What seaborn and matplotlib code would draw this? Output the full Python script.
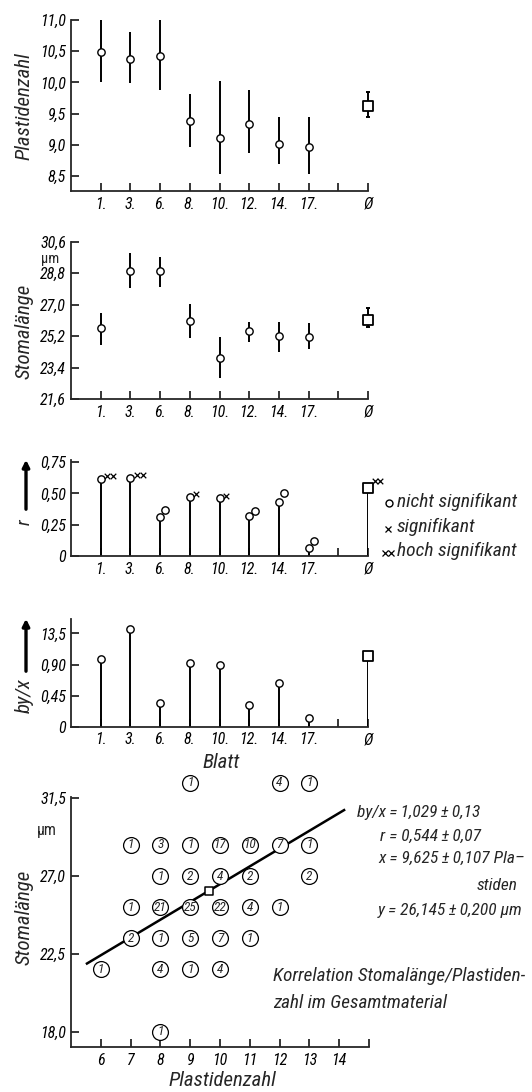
import matplotlib
matplotlib.use("Agg")
import matplotlib.pyplot as plt
import seaborn as sns
import numpy as np
import pandas as pd
from matplotlib import font_manager

# ---------------- data ----------------
leaf_labels = ["1.", "3.", "6.", "8.", "10.", "12.", "14.", "17.", "", "Ø"]

# Plastidenzahl per leaf (mean, lower and upper end of the bar)
plastid_mean = [10.48, 10.38, 10.42, 9.38, 9.11, 9.33, 9.02, 8.97]
plastid_low = [10.00, 9.99, 9.88, 8.96, 8.54, 8.87, 8.69, 8.54]
plastid_high = [11.00, 10.81, 11.00, 9.81, 10.03, 9.88, 9.44, 9.44]
plastid_total = 9.625
plastid_total_low = 9.44
plastid_total_high = 9.84

# Stomalänge per leaf (µm)
stoma_mean = [25.65, 28.93, 28.93, 26.09, 23.94, 25.51, 25.21, 25.14]
stoma_low = [24.70, 27.94, 28.00, 25.11, 22.79, 24.89, 24.31, 24.45]
stoma_high = [26.50, 29.94, 29.74, 27.03, 25.17, 26.03, 26.03, 25.94]
stoma_total = 26.145
stoma_total_low = 25.71
stoma_total_high = 26.79

# correlation coefficient r per leaf and significance marks
r_value = [0.616, 0.620, 0.312, 0.472, 0.462, 0.322, 0.435, 0.067]
r_mark = [0.640, 0.650, 0.368, 0.496, 0.483, 0.362, 0.506, 0.120]
r_signif = ["hoch", "hoch", "nicht", "sig", "sig", "nicht", "nicht", "nicht"]
r_total = 0.544
r_total_mark = 0.600
r_total_signif = "hoch"

# regression coefficient by/x per leaf
b_yx = [0.974, 1.415, 0.347, 0.920, 0.900, 0.313, 0.630, 0.130]
b_yx_total = 1.029

# correlation table: plastid class, stoma class (µm), number of cells
corr_plastids = [9, 12, 13,
                 7, 8, 9, 10, 11, 12, 13,
                 8, 9, 10, 11, 13,
                 7, 8, 9, 10, 11, 12,
                 7, 8, 9, 10, 11,
                 6, 8, 9, 10,
                 8]
corr_stoma = [32.4, 32.4, 32.4,
              28.8, 28.8, 28.8, 28.8, 28.8, 28.8, 28.8,
              27.0, 27.0, 27.0, 27.0, 27.0,
              25.2, 25.2, 25.2, 25.2, 25.2, 25.2,
              23.4, 23.4, 23.4, 23.4, 23.4,
              21.6, 21.6, 21.6, 21.6,
              18.0]
corr_counts = [1, 4, 1,
               1, 3, 1, 17, 10, 7, 1,
               1, 2, 4, 2, 2,
               1, 21, 25, 22, 4, 1,
               2, 1, 5, 7, 1,
               1, 4, 1, 4,
               1]
mean_plastids = 9.625
mean_stoma = 26.145
slope_yx = 1.029
line_x_range = [5.5, 14.2]

# ---------------- style ----------------
sns.set_style("ticks")
wanted = ["Liberation Sans Narrow", "DejaVu Sans Condensed", "Roboto Condensed", "Lato"]
installed = {f.name for f in font_manager.fontManager.ttflist}
families = [f for f in wanted if f in installed] + ["DejaVu Sans"]
plt.rcParams["font.family"] = families
plt.rcParams["font.style"] = "italic"
plt.rcParams["axes.linewidth"] = 1.3

W, H = 532, 1092
fig = plt.figure(figsize=(W / 100, H / 100), dpi=100)


def px_axes(top, bottom, left=71, right=368):
    return fig.add_axes([left / W, 1 - bottom / H, (right - left) / W, (bottom - top) / H])


def fx(x):
    return x / W


def fy(y):
    return 1 - y / H


def comma(v, fmt):
    return format(v, fmt).replace(".", ",")


def style(ax):
    sns.despine(ax=ax)
    ax.tick_params(direction="in", length=5.5, width=1.1, labelsize=11.5, pad=4,
                   color="black", labelcolor="black")
    ax.tick_params(axis="y", pad=3.5)
    ax.set_facecolor("white")
    ax.set_xlabel("")
    ax.set_ylabel("")


pos = np.arange(len(plastid_mean))
total_pos = leaf_labels.index("Ø")
all_pos = np.arange(len(leaf_labels))

# ---------- panel 1: Plastidenzahl ----------
ax1 = px_axes(20, 191)
ax1.vlines(pos, plastid_low, plastid_high, color="black", lw=1.4, clip_on=False)
ax1.errorbar([total_pos], [plastid_total],
             yerr=[[plastid_total - plastid_total_low], [plastid_total_high - plastid_total]],
             fmt="none", ecolor="black", elinewidth=1.4, capsize=1.5, capthick=1.4, clip_on=False)
sns.scatterplot(x=pos, y=plastid_mean, ax=ax1, marker="o", s=28, color="white",
                edgecolor="black", linewidth=1.0, zorder=3, clip_on=False)
sns.scatterplot(x=[total_pos], y=[plastid_total], ax=ax1, marker="s", s=60, color="white",
                edgecolor="black", linewidth=1.3, zorder=3, clip_on=False)
ax1.set_xlim(-1, 9)
ax1.set_ylim(8.26, 11.0)
ax1.set_yticks([8.5, 9.0, 9.5, 10.0, 10.5, 11.0])
ax1.set_yticklabels([comma(v, ".1f") for v in [8.5, 9.0, 9.5, 10.0, 10.5, 11.0]])
ax1.set_xticks(all_pos)
ax1.set_xticklabels(leaf_labels)
style(ax1)
fig.text(fx(24), fy(106), "Plastidenzahl", rotation=90, ha="center", va="center", fontsize=15)

# ---------- panel 2: Stomalänge ----------
ax2 = px_axes(241.7, 399.3)
ax2.vlines(pos, stoma_low, stoma_high, color="black", lw=1.4, clip_on=False)
ax2.errorbar([total_pos], [stoma_total],
             yerr=[[stoma_total - stoma_total_low], [stoma_total_high - stoma_total]],
             fmt="none", ecolor="black", elinewidth=1.4, capsize=1.5, capthick=1.4, clip_on=False)
sns.scatterplot(x=pos, y=stoma_mean, ax=ax2, marker="o", s=28, color="white",
                edgecolor="black", linewidth=1.0, zorder=3, clip_on=False)
sns.scatterplot(x=[total_pos], y=[stoma_total], ax=ax2, marker="s", s=60, color="white",
                edgecolor="black", linewidth=1.3, zorder=3, clip_on=False)
stoma_ticks = [21.6, 23.4, 25.2, 27.0, 28.8, 30.6]
ax2.set_xlim(-1, 9)
ax2.set_ylim(21.6, 30.6)
ax2.set_yticks(stoma_ticks)
ax2.set_yticklabels([comma(v, ".1f") for v in stoma_ticks])
ax2.set_xticks(all_pos)
ax2.set_xticklabels(leaf_labels)
style(ax2)
fig.text(fx(50), fy(259), "µm", ha="center", va="center", fontsize=10.5, style="normal")
fig.text(fx(24), fy(331), "Stomalänge", rotation=90, ha="center", va="center", fontsize=15)

# ---------- panel 3: r ----------
ax3 = px_axes(460, 556)
ax3.vlines(pos.tolist() + [total_pos], 0, r_value + [r_total], color="black", lw=1.4)
sns.scatterplot(x=pos, y=r_value, ax=ax3, marker="o", s=28, color="white",
                edgecolor="black", linewidth=1.0, zorder=3, clip_on=False)
sns.scatterplot(x=[total_pos], y=[r_total], ax=ax3, marker="s", s=60, color="white",
                edgecolor="black", linewidth=1.3, zorder=3, clip_on=False)

mark_x, mark_y, mark_kind = [], [], []
for p, v, s in zip(list(pos) + [total_pos], r_mark + [r_total_mark], r_signif + [r_total_signif]):
    if s == "nicht":
        mark_x.append(p + 0.18); mark_y.append(v); mark_kind.append("o")
    elif s == "sig":
        mark_x.append(p + 0.22); mark_y.append(v); mark_kind.append("x")
    else:
        mark_x += [p + 0.22, p + 0.42]; mark_y += [v, v]; mark_kind += ["x", "x"]
marks = pd.DataFrame({"x": mark_x, "y": mark_y, "kind": mark_kind})
sns.scatterplot(data=marks[marks.kind == "o"], x="x", y="y", ax=ax3, marker="o", s=28,
                color="white", edgecolor="black", linewidth=1.0, zorder=3, clip_on=False)
sns.scatterplot(data=marks[marks.kind == "x"], x="x", y="y", ax=ax3, marker="x", s=16,
                color="black", linewidth=0.9, zorder=3, clip_on=False)
ax3.set_xlim(-1, 9)
ax3.set_ylim(0, 0.768)
ax3.set_yticks([0, 0.25, 0.5, 0.75])
ax3.set_yticklabels(["0", "0,25", "0,50", "0,75"])
ax3.set_xticks(all_pos)
ax3.set_xticklabels(leaf_labels)
style(ax3)
fig.add_artist(matplotlib.patches.FancyArrowPatch(
    (fx(26), fy(512)), (fx(26), fy(457)), transform=fig.transFigure,
    arrowstyle="-|>", mutation_scale=10, lw=2.4, color="black"))
fig.text(fx(25), fy(522), "r", rotation=90, ha="center", va="center", fontsize=14)

# legend of significance levels
legend_rows = [(502, "o", "nicht signifikant"), (527, "x", "signifikant"), (551, "xx", "hoch signifikant")]
for y, m, label in legend_rows:
    if m == "o":
        ax3.plot([fx(389)], [fy(y + 1)], marker="o", ms=5, mfc="white", mec="black", mew=1.0,
                 transform=fig.transFigure, clip_on=False, ls="none")
    elif m == "x":
        ax3.plot([fx(388)], [fy(y + 2)], marker="x", ms=4, mec="black", mew=0.9,
                 transform=fig.transFigure, clip_on=False, ls="none")
    else:
        ax3.plot([fx(385), fx(391)], [fy(y + 2), fy(y + 2)], marker="x", ms=4, mec="black",
                 mew=0.9, transform=fig.transFigure, clip_on=False, ls="none")
    fig.text(fx(397), fy(y), label, ha="left", va="center", fontsize=14)

# ---------- panel 4: by/x ----------
ax4 = px_axes(619, 726.7)
ax4.vlines(pos.tolist() + [total_pos], 0, b_yx + [b_yx_total], color="black", lw=1.4)
sns.scatterplot(x=pos, y=b_yx, ax=ax4, marker="o", s=28, color="white",
                edgecolor="black", linewidth=1.0, zorder=3, clip_on=False)
sns.scatterplot(x=[total_pos], y=[b_yx_total], ax=ax4, marker="s", s=60, color="white",
                edgecolor="black", linewidth=1.3, zorder=3, clip_on=False)
ax4.set_xlim(-1, 9)
ax4.set_ylim(0, 1.56)
ax4.set_yticks([0, 0.45, 0.90, 1.35])
ax4.set_yticklabels(["0", "0,45", "0,90", "13,5"])
ax4.set_xticks(all_pos)
ax4.set_xticklabels(leaf_labels)
style(ax4)
fig.text(fx(221), fy(763), "Blatt", ha="center", va="center", fontsize=15)
fig.add_artist(matplotlib.patches.FancyArrowPatch(
    (fx(26), fy(674)), (fx(26), fy(616)), transform=fig.transFigure,
    arrowstyle="-|>", mutation_scale=10, lw=2.4, color="black"))
fig.text(fx(24), fy(696), "by/x", rotation=90, ha="center", va="center", fontsize=15)

# ---------- panel 5: correlation table ----------
ax5 = px_axes(796.7, 1047.3, right=369)
table = pd.DataFrame({"plastids": corr_plastids, "stoma": corr_stoma, "n": corr_counts})
xs = np.array(line_x_range)
ax5.plot(xs, mean_stoma + slope_yx * (xs - mean_plastids), color="black", lw=1.8,
         zorder=2, clip_on=False, solid_capstyle="butt")
sns.scatterplot(data=table, x="plastids", y="stoma", ax=ax5, marker="o", s=130,
                color="white", edgecolor="black", linewidth=0.9, zorder=3, clip_on=False)
for _, row in table.iterrows():
    ax5.text(row.plastids, row.stoma, str(int(row.n)), ha="center", va="center",
             fontsize=9.5, zorder=4, clip_on=False)
sns.scatterplot(x=[mean_plastids], y=[mean_stoma], ax=ax5, marker="s", s=32, color="white",
                edgecolor="black", linewidth=1.1, zorder=5)
ax5.set_xlim(5, 15)
ax5.set_ylim(17.09, 31.59)
ax5.set_xticks(list(range(6, 16)))
ax5.set_xticklabels([str(v) for v in range(6, 15)] + [""])
ax5.set_yticks([18.0, 22.5, 27.0, 31.5])
ax5.set_yticklabels([comma(v, ".1f") for v in [18.0, 22.5, 27.0, 31.5]])
style(ax5)
fig.text(fx(47), fy(830), "µm", ha="center", va="center", fontsize=11.5, style="normal")
fig.text(fx(24), fy(917), "Stomalänge", rotation=90, ha="center", va="center", fontsize=15)
fig.text(fx(222), fy(1080), "Plastidenzahl", ha="center", va="center", fontsize=15)

thin = "\u2009"
stats_lines = [
    (357, 812, "left", "by/x" + thin + "=" + thin + comma(b_yx_total, ".3f") + thin + "±" + thin + "0,13"),
    (380, 836, "left", "r = " + comma(r_total, ".3f") + thin + "±" + thin + "0,07"),
    (378, 858, "left", "x = " + comma(mean_plastids, ".3f") + thin + "±" + thin + "0,107 Pla–"),
    (518, 885, "right", "stiden"),
    (378, 911, "left", "y = " + comma(mean_stoma, ".3f") + thin + "±" + thin + "0,200 µm"),
]
for x, y, ha, txt in stats_lines:
    fig.text(fx(x), fy(y), txt, ha=ha, va="center", fontsize=12.5)

fig.text(fx(273), fy(976), "Korrelation Stomalänge/Plastiden-", ha="left", va="center", fontsize=13.8)
fig.text(fx(273), fy(1003), "zahl im Gesamtmaterial", ha="left", va="center", fontsize=13.8)

fig.savefig("out.png", dpi=100, facecolor="white")
